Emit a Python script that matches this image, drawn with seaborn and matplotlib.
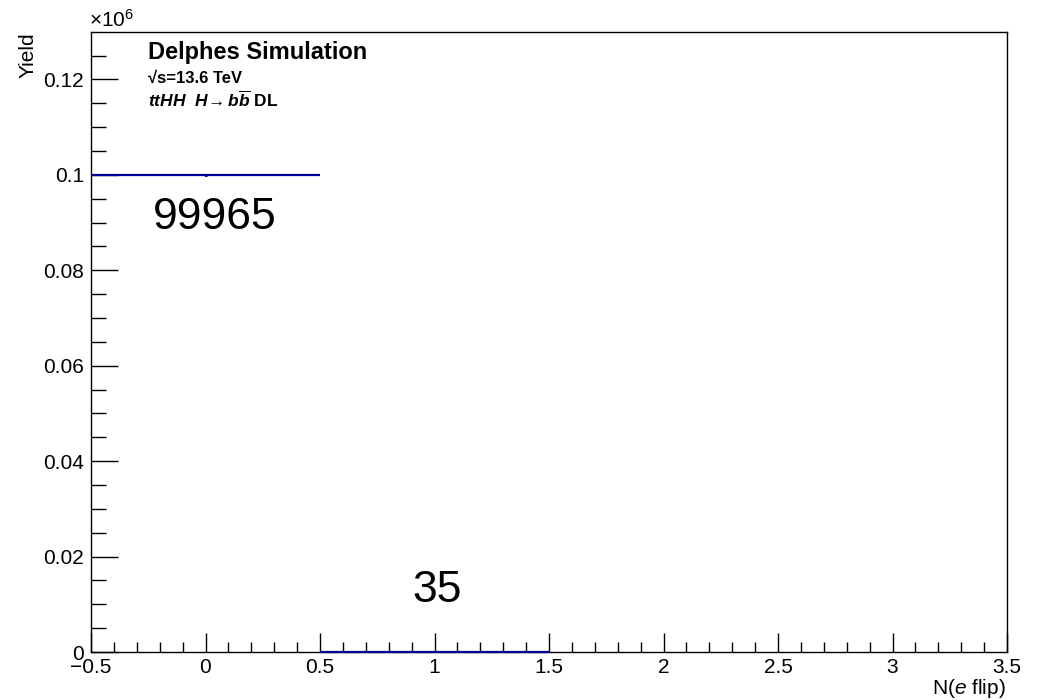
import numpy as np
import matplotlib
matplotlib.use("Agg")
import matplotlib.pyplot as plt
from matplotlib.ticker import MultipleLocator, FuncFormatter
import seaborn as sns
import pandas as pd

# ---- data ----
bin_centers = [0, 1, 2, 3]
bin_counts = [99965, 35, 0, 0]
bin_half_width = 0.5
count_labels = ["99965", "35"]
x_label = r"N($\mathit{e}$ flip)"
y_label = "Yield"

sns.set_style("ticks")
plt.rcParams['font.family'] = ['Liberation Sans', 'DejaVu Sans']
plt.rcParams['mathtext.fontset'] = 'custom'
plt.rcParams['mathtext.rm'] = 'Liberation Sans'
plt.rcParams['mathtext.it'] = 'Liberation Sans:italic'
plt.rcParams['mathtext.bf'] = 'Liberation Sans:bold:italic'
for k in ['text.color', 'axes.labelcolor', 'xtick.color', 'ytick.color', 'axes.edgecolor']:
    plt.rcParams[k] = 'black'

df = pd.DataFrame({"x": bin_centers, "y": bin_counts})
nz = df[df["y"] > 0]

fig = plt.figure(figsize=(10.38, 7.0), dpi=100)
ax = fig.add_axes([91/1038, 48/700, 916/1038, 620/700])

color = "#000099"
ax.errorbar(nz["x"], nz["y"], xerr=bin_half_width, yerr=np.sqrt(nz["y"]),
            fmt="none", ecolor=color, elinewidth=1.6, capsize=0, zorder=3,
            clip_on=False)
sns.scatterplot(data=nz, x="x", y="y", ax=ax, color=color, s=4, linewidth=0,
                zorder=4, legend=False)

# count labels
ax.text(nz["x"].iloc[0] + 0.04, nz["y"].iloc[0] * 0.912, count_labels[0],
        ha="center", va="center", fontsize=32)
ax.text(nz["x"].iloc[1] + 0.01, 0.0113e6 + nz["y"].iloc[1] * 45, count_labels[1],
        ha="center", va="center", fontsize=32)

ymax = 1.3 * max(bin_counts)
ax.set_xlim(-0.5, 3.5)
ax.set_ylim(0, ymax)

ax.xaxis.set_major_locator(MultipleLocator(0.5))
ax.xaxis.set_minor_locator(MultipleLocator(0.1))
ax.yaxis.set_major_locator(MultipleLocator(20000))
ax.yaxis.set_minor_locator(MultipleLocator(5000))
ax.xaxis.set_major_formatter(FuncFormatter(lambda v, p: f"{v:g}".replace("-", "\u2212")))
ax.yaxis.set_major_formatter(FuncFormatter(lambda v, p: f"{v/1e6:g}"))

ax.tick_params(axis="x", which="major", direction="in", length=13.5, width=1.0,
               labelsize=15, pad=4.5, top=False)
ax.tick_params(axis="x", which="minor", direction="in", length=7, width=1.0, top=False)
ax.tick_params(axis="y", which="major", direction="in", length=19.5, width=1.0,
               labelsize=15, pad=5, right=False)
ax.tick_params(axis="y", which="minor", direction="in", length=11, width=1.0, right=False)
for s in ax.spines.values():
    s.set_visible(True)
    s.set_linewidth(1.0)
    s.set_color("black")

ax.set_xlabel("")
ax.set_ylabel("")

fig.text(1006/1038, 1 - 689/700, x_label, ha="right", va="center", fontsize=15)
fig.text(28/1038, 1 - 32/700, y_label, rotation=90, ha="center", va="top", fontsize=15)
fig.text(89/1038, 1 - 20/700, r"$\times10^{6}$", ha="left", va="center", fontsize=15)

fig.text(148/1038, 1 - 52/700, "Delphes Simulation", ha="left", va="center",
         fontsize=17, fontweight="bold")
fig.text(148/1038, 1 - 78/700, "\u221As=13.6 TeV", ha="left", va="center",
         fontsize=12, fontweight="bold")
fig.text(148/1038, 1 - 100/700, r"$\mathbf{ttHH\ \ H\!\rightarrow b\overline{b}}$ DL",
         ha="left", va="center", fontsize=12.5, fontweight="bold")

fig.savefig("out.png", dpi=100)
